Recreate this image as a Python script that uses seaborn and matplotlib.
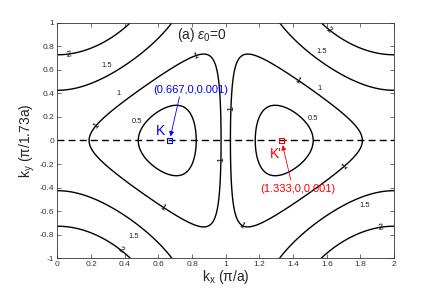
import numpy as np
import pandas as pd
import matplotlib
matplotlib.use("Agg")
import matplotlib.pyplot as plt
import seaborn as sns

# ---------------- data ----------------
kx_lim = [0, 2]
ky_lim = [-1, 1]
contour_levels = [0.5, 1, 1.5, 2]
# band-model parameters (E=0 at K, K')
omega_y = 1.74      # ky phase factor
beta = 0.2          # anisotropy factor
dirac_kx = [0.667, 1.333]
dirac_ky = [0.0, 0.0]
dirac_E = [0.001, 0.001]
dirac_names = ["K", "K'"]
dirac_colors = ["#0000ff", "#ff0000"]
x_ticks = [0, 0.2, 0.4, 0.6, 0.8, 1, 1.2, 1.4, 1.6, 1.8, 2]
y_ticks = [-1, -0.8, -0.6, -0.4, -0.2, 0, 0.2, 0.4, 0.6, 0.8, 1]
# contour labels drawn along lines (rotated)
inline_label_pos = [(0.234, 0.13), (0.817, 0.74), (1.43, 0.51), (1.707, -0.22),
                    (0.62, -0.575), (1.088, -0.737), (1.025, 0.273), (0.97, -0.165),
                    (0.069, 0.74), (1.613, 0.932), (0.372, -0.936), (1.919, -0.754)]
# contour labels placed beside lines
side_label_text = ["0.5", "0.5", "1", "1", "1.5", "1.5", "1.5", "1.5"]
side_label_x = [0.473, 1.52, 0.362, 1.555, 0.294, 1.569, 1.823, 0.455]
side_label_y = [0.165, 0.19, 0.395, 0.445, 0.635, 0.754, -0.556, -0.817]
baseline_kx = [0, 2]
baseline_ky = [0, 0]

# ---------------- style ----------------
sns.set_style("ticks")
plt.rcParams['font.family'] = ['Liberation Sans', 'DejaVu Sans']
plt.rcParams['mathtext.fontset'] = 'custom'
plt.rcParams['mathtext.rm'] = 'Liberation Sans'
plt.rcParams['mathtext.it'] = 'Liberation Sans:italic'

fig = plt.figure(figsize=(4.36, 2.91), dpi=100)
ax = fig.add_axes([0.1315, 0.1124, 0.7725, 0.8096])

# ---------------- field ----------------
kx = np.linspace(kx_lim[0], kx_lim[1], 801)
ky = np.linspace(ky_lim[0], ky_lim[1], 801)
KX, KY = np.meshgrid(kx, ky)
c = np.abs(np.cos(np.pi * KX / 2))
E = np.sqrt((1 + beta) * (1 - 2 * c) ** 2 + 4 * c * (1 - np.cos(omega_y * KY)))

cs = ax.contour(KX, KY, E, levels=contour_levels, colors='black', linewidths=1.0)
fmt = {0.5: '0.5', 1: '1', 1.5: '1.5', 2: '2'}
ax.clabel(cs, manual=inline_label_pos, inline=False, fontsize=6.5, fmt=fmt, colors='#111111')

for t, x, y in zip(side_label_text, side_label_x, side_label_y):
    ax.text(x, y, t, fontsize=5.5, ha='center', va='center', color='#222222')

# dashed line through K and K'
sns.lineplot(x=baseline_kx, y=baseline_ky, ax=ax, color='black', lw=1.0,
             linestyle=(0, (5, 3)))

# K and K' markers
for i in range(2):
    ax.scatter(dirac_kx[i], dirac_ky[i], marker='s', s=12, facecolors='none',
               edgecolors=dirac_colors[i], linewidths=0.8, zorder=5)

def tip(i):
    return "({:.3f},{:g},{:.3f})".format(dirac_kx[i], dirac_ky[i], dirac_E[i])

# K annotations
ax.text(0.79, 0.43, tip(0), color=dirac_colors[0], fontsize=8, ha='center', va='center')
ax.annotate('', xy=(dirac_kx[0] + 0.005, dirac_ky[0] + 0.035), xytext=(0.725, 0.37),
            arrowprops=dict(arrowstyle='-|>', color=dirac_colors[0], lw=0.6,
                            mutation_scale=7, shrinkA=0, shrinkB=0))
ax.text(0.61, 0.08, dirac_names[0], color=dirac_colors[0], fontsize=10, ha='center', va='center')

# K' annotations
ax.text(1.43, -0.415, tip(1), color=dirac_colors[1], fontsize=8, ha='center', va='center')
ax.annotate('', xy=(dirac_kx[1] + 0.005, dirac_ky[1] - 0.04), xytext=(1.386, -0.335),
            arrowprops=dict(arrowstyle='-|>', color=dirac_colors[1], lw=0.6,
                            mutation_scale=7, shrinkA=0, shrinkB=0))
ax.text(1.295, -0.115, dirac_names[1], color=dirac_colors[1], fontsize=10, ha='center', va='center')

ax.text(0.86, 0.895, r"(a) $\epsilon_\mathrm{0}$=0", fontsize=10, ha='center', va='center')

# ---------------- axes ----------------
ax.set_xlim(kx_lim)
ax.set_ylim(ky_lim)
ax.set_xticks(x_ticks)
ax.set_yticks(y_ticks)
ax.set_xticklabels([f"{v:g}" for v in x_ticks])
ax.set_yticklabels([f"{v:g}" for v in y_ticks])
ax.tick_params(direction='in', length=3, width=0.5, labelsize=6, colors='#333333',
               top=True, right=True, pad=2)
for s in ax.spines.values():
    s.set_visible(True)
    s.set_linewidth(0.6)
    s.set_color('#333333')
ax.set_xlabel(r"k$_\mathrm{x}$ (π/a)", fontsize=10, labelpad=0)
ax.set_ylabel(r"k$_\mathrm{y}$ (π/1.73a)", fontsize=10, labelpad=2)

fig.savefig("out.png", dpi=100)
